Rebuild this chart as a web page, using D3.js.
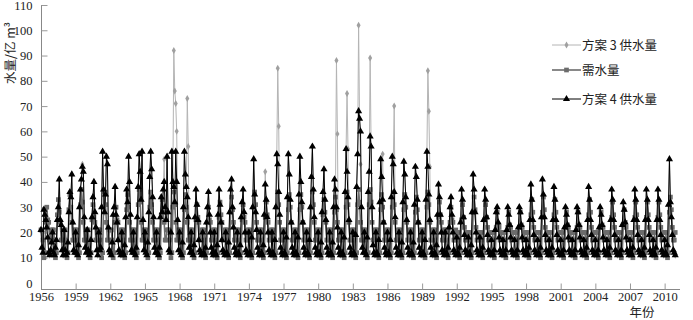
<!DOCTYPE html>
<html><head><meta charset="utf-8">
<script src="https://cdn.jsdelivr.net/npm/d3@7"></script>
<style>body{margin:0;background:#fff}svg{display:block}</style>
</head><body><svg id="c" width="693" height="320"></svg>
<script>
// Monthly series, Jan 1956 .. Dec 2010 (one row per year)
const startYear = 1956;
const yTicks = [0,10,20,30,40,50,60,70,80,90,100,110];
const xTickYears = [1956,1959,1962,1965,1968,1971,1974,1977,1980,1983,1986,1989,1992,1995,1998,2001,2004,2007,2010];
const seriesNames = ["方案 3 供水量", "需水量", "方案 4 供水量"];

const scheme4 = [
21,14,12,29,27,25,22,18,12,11,13,16,
20,12,11,14,17,25,30,41,25,23,13,11,
21,13,11,12,16,28,36,34,43,24,13,12,
20,12,11,15,30,37,41,46,44,26,14,12,
21,13,11,12,17,26,34,40,28,22,13,11,
20,13,14,30,52,37,28,35,50,47,22,13,
12,11,16,27,30,38,27,24,17,13,12,11,
20,12,11,15,26,37,32,50,40,27,13,12,
20,12,11,14,26,38,51,44,33,52,25,13,
20,12,11,16,28,42,52,45,34,26,14,12,
20,12,11,14,26,34,28,37,40,30,25,50,
28,13,12,20,52,40,38,32,52,40,25,13,
20,12,11,16,30,52,43,38,34,26,14,12,
20,12,11,15,26,37,31,25,17,13,12,11,
20,12,11,14,24,30,36,27,20,14,12,11,
20,12,11,15,27,37,31,24,17,13,12,11,
20,12,11,16,28,37,41,30,22,14,12,11,
20,12,11,15,26,32,37,28,20,13,12,11,
20,12,11,18,30,49,35,28,21,14,12,11,
20,12,11,15,27,39,33,26,20,13,12,11,
20,12,11,17,30,51,47,36,27,14,12,11,
20,12,11,18,34,51,43,33,24,14,12,11,
20,12,11,18,35,50,40,32,24,14,12,11,
20,12,11,17,30,42,54,37,26,14,12,11,
20,12,11,16,28,36,45,33,25,14,12,11,
20,12,11,16,30,41,37,30,22,14,12,11,
20,12,11,18,36,53,44,34,25,14,12,11,
20,12,11,19,38,51,68,65,60,30,14,12,
20,12,11,18,36,44,58,54,30,15,12,11,
20,12,11,17,32,49,42,33,24,14,12,11,
20,12,11,17,34,50,47,36,26,14,12,11,
20,12,11,16,32,48,43,34,25,14,12,11,
20,12,11,16,31,46,42,33,24,14,12,11,
20,12,11,17,33,52,46,35,25,14,12,11,
20,12,11,15,27,39,34,27,20,13,12,11,
20,12,11,14,22,30,34,27,20,13,12,11,
18,12,11,14,24,37,33,26,19,13,12,11,
18,12,11,15,28,43,37,28,20,13,12,11,
18,12,11,14,25,37,33,26,19,13,12,11,
17,12,11,13,21,28,30,24,18,13,12,11,
17,12,11,13,21,30,27,23,18,13,12,11,
17,12,11,13,22,30,28,23,18,13,12,11,
17,12,11,14,25,39,33,25,19,13,12,11,
17,12,11,14,26,41,35,26,19,13,12,11,
17,12,11,14,25,38,33,25,19,13,12,11,
17,12,11,13,22,30,27,23,18,13,12,11,
17,12,11,13,21,30,28,23,18,13,12,11,
17,12,11,14,25,38,33,25,19,13,12,11,
17,12,11,13,22,30,27,23,18,13,12,11,
17,12,11,14,25,37,33,25,19,13,12,11,
17,12,11,13,23,32,29,24,18,13,12,11,
17,12,11,14,25,37,33,25,19,13,12,11,
17,12,11,14,25,37,33,25,19,13,12,11,
17,12,11,14,25,37,33,25,19,13,12,11,
17,12,11,15,31,49,32,26,19,13,12,11
];

const scheme3 = [
21,14,12,29,27,25,22,18,12,11,13,16,
20,12,11,14,17,25,30,41,25,23,13,11,
21,13,11,12,16,28,36,34,43,24,13,12,
20,12,11,15,30,37,41,47,44,26,14,12,
21,13,11,12,17,26,34,40,28,22,13,11,
20,13,14,30,52,37,28,35,50,47,22,13,
12,11,16,27,30,38,27,24,17,13,12,11,
20,12,11,15,26,37,32,50,40,27,13,12,
20,12,11,14,26,38,51,44,33,52,25,13,
20,12,11,16,28,42,52,45,34,26,14,12,
20,12,11,14,26,34,28,37,49,30,25,50,
28,13,12,20,52,40,92,76,71,60,25,13,
20,12,11,16,30,52,43,38,73,54,14,12,
20,12,11,15,26,37,31,25,17,13,12,11,
20,12,11,14,24,30,36,27,20,14,12,11,
20,12,11,15,27,37,31,24,17,13,12,11,
20,12,11,16,28,37,41,30,22,14,12,11,
20,12,11,15,26,32,37,28,20,13,12,11,
20,12,11,18,30,49,35,28,21,14,12,11,
20,12,11,15,27,44,33,26,20,13,12,11,
20,12,11,17,30,51,85,62,27,14,12,11,
20,12,11,18,34,51,43,33,24,14,12,11,
20,12,11,18,35,50,40,32,24,14,12,11,
20,12,11,17,30,42,54,37,26,14,12,11,
20,12,11,16,28,36,45,33,25,14,12,11,
20,12,11,16,30,41,37,88,59,14,12,11,
20,12,11,18,36,53,75,53,25,14,12,11,
20,12,11,19,38,51,102,65,47,30,14,12,
20,12,11,18,36,44,89,54,30,15,12,11,
20,12,11,17,32,49,42,51,24,14,12,11,
20,12,11,17,34,50,47,70,26,14,12,11,
20,12,11,16,32,48,43,34,25,14,12,11,
20,12,11,16,31,46,42,33,24,14,12,11,
20,12,11,17,33,52,84,68,46,14,12,11,
20,12,11,15,27,39,34,27,20,13,12,11,
20,12,11,14,22,30,34,27,20,13,12,11,
18,12,11,14,24,37,33,26,19,13,12,11,
18,12,11,15,28,43,37,28,20,13,12,11,
18,12,11,14,25,37,33,26,19,13,12,11,
17,12,11,13,21,28,30,24,18,13,12,11,
17,12,11,13,21,30,27,23,18,13,12,11,
17,12,11,13,22,30,28,23,18,13,12,11,
17,12,11,14,25,39,33,25,19,13,12,11,
17,12,11,14,26,41,35,26,19,13,12,11,
17,12,11,14,25,38,33,25,19,13,12,11,
17,12,11,13,22,30,27,23,18,13,12,11,
17,12,11,13,21,30,28,23,18,13,12,11,
17,12,11,14,25,38,33,25,19,13,12,11,
17,12,11,13,22,30,27,23,18,13,12,11,
17,12,11,14,25,37,33,25,19,13,12,11,
17,12,11,13,23,32,29,24,18,13,12,11,
17,12,11,14,25,37,33,25,19,13,12,11,
17,12,11,14,25,37,33,25,19,13,12,11,
17,12,11,14,25,37,33,25,19,13,12,11,
17,12,11,15,31,49,32,26,19,13,12,11
];

const demand = [
21,21,17,10,12,24,30,25,24,17,17,21,
21,21,17,10,12,27,33,28,24,17,17,21,
21,21,17,10,12,29,35,30,24,17,17,21,
21,21,17,10,12,31,37,32,24,17,17,21,
21,21,17,10,12,25,31,26,24,17,17,21,
21,21,17,10,12,30,36,31,24,17,17,21,
21,21,17,10,12,24,30,25,24,17,17,21,
21,21,17,10,12,29,35,30,24,17,17,21,
21,21,17,10,12,31,37,32,24,17,17,21,
21,21,17,10,12,30,36,31,24,17,17,21,
21,21,17,10,12,27,33,28,24,17,17,21,
21,21,17,10,12,30,36,31,24,17,17,21,
21,21,17,10,12,29,35,30,24,17,17,21,
21,21,17,10,12,25,31,26,24,17,17,21,
21,21,17,10,12,24,30,25,24,17,17,21,
21,21,17,10,12,26,32,27,24,17,17,21,
21,21,17,10,12,28,34,29,24,17,17,21,
21,21,17,10,12,25,31,26,24,17,17,21,
21,21,17,10,12,30,36,31,24,17,17,21,
21,21,17,10,12,26,32,27,24,17,17,21,
21,21,17,10,12,30,36,31,24,17,17,21,
21,21,17,10,12,29,35,30,24,17,17,21,
21,21,17,10,12,29,35,30,24,17,17,21,
21,21,17,10,12,30,36,31,24,17,17,21,
21,21,17,10,12,27,33,28,24,17,17,21,
21,21,17,10,12,28,34,29,24,17,17,21,
21,21,17,10,12,30,36,31,24,17,17,21,
21,21,17,10,12,31,37,32,24,17,17,21,
21,21,17,10,12,31,37,32,24,17,17,21,
21,21,17,10,12,29,35,30,24,17,17,21,
21,21,17,10,12,30,36,31,24,17,17,21,
21,21,17,10,12,29,35,30,24,17,17,21,
21,21,17,10,12,28,34,29,24,17,17,21,
21,21,17,10,12,30,36,31,24,17,17,21,
21,21,17,10,12,26,32,27,24,17,17,21,
21,21,17,10,12,24,30,25,24,17,17,21,
20,20,17,10,12,25,31,26,22,17,17,20,
20,20,17,10,12,28,34,29,22,17,17,20,
20,20,17,10,12,25,31,26,22,17,17,20,
20,20,17,10,12,22,28,23,22,17,17,20,
20,20,17,10,12,22,28,23,22,17,17,20,
20,20,17,10,12,22,28,23,22,17,17,20,
20,20,17,10,12,27,33,28,22,17,17,20,
20,20,17,10,12,28,34,29,22,17,17,20,
20,20,17,10,12,27,33,28,22,17,17,20,
20,20,17,10,12,22,28,23,22,17,17,20,
20,20,17,10,12,22,28,23,22,17,17,20,
20,20,17,10,12,27,33,28,22,17,17,20,
20,20,17,10,12,22,28,23,22,17,17,20,
20,20,17,10,12,26,32,27,22,17,17,20,
20,20,17,10,12,23,29,24,22,17,17,20,
20,20,17,10,12,26,32,27,22,17,17,20,
20,20,17,10,12,26,32,27,22,17,17,20,
20,20,17,10,12,26,32,27,22,17,17,20,
20,20,17,10,12,28,34,29,22,17,17,20
];

const svg = d3.select("#c");
const x = d3.scaleLinear().domain([1956, 2011.33]).range([41, 680]);
const y = d3.scaleLinear().domain([0, 110]).range([283, 5]);
const axisY = 289.5;
const tOf = i => startYear + i / 12;

const numFont = "'Liberation Serif','DejaVu Serif',serif";
const cjkFont = "'Noto Sans CJK SC','Noto Sans',sans-serif";

// axes
const yAxis = d3.axisLeft(y).tickValues(yTicks).tickSizeInner(-6).tickSizeOuter(0).tickPadding(9);
const gy = svg.append("g").attr("transform","translate(41.5,0)").call(yAxis);
const xAxis = d3.axisBottom(x).tickValues(xTickYears).tickFormat(d3.format("d")).tickSizeInner(-6).tickSizeOuter(0).tickPadding(3);
const gx = svg.append("g").attr("transform",`translate(0,${axisY})`).call(xAxis);
[gy, gx].forEach(g => {
  g.select(".domain").attr("stroke","#888");
  g.selectAll(".tick line").attr("stroke","#999");
  g.selectAll("text").attr("font-family", numFont).attr("font-size", 12.5).attr("fill","#222");
});
gy.select(".domain").attr("d", `M0,${y(110)}V${axisY}`);
gy.selectAll(".tick").filter(d => d === 0).select("line").remove();
gx.select(".domain").attr("d", "M41,0H680");
gx.selectAll(".tick").filter(d => d === 1956).select("line").remove();

function series(data, color, width, symbolType, size, fill) {
  const pts = data.map((v, i) => [x(tOf(i)), y(v)]);
  svg.append("path").attr("d", d3.line()(pts)).attr("fill","none")
     .attr("stroke", color).attr("stroke-width", width);
  svg.append("g").selectAll("path").data(pts).join("path")
     .attr("transform", d => `translate(${d[0]},${d[1]})`)
     .attr("d", d3.symbol().type(symbolType).size(size)())
     .attr("fill", fill);
}
series(scheme3, "#b4b4b4", 1, d3.symbolDiamond, 14, "#a0a0a0");
series(demand, "#6c6c6c", 1.6, d3.symbolSquare, 22, "#6c6c6c");
series(scheme4, "#000", 1, d3.symbolTriangle, 22, "#000");

// legend
const leg = [
  {name: seriesNames[0], color:"#b4b4b4", fill:"#a0a0a0", sym:d3.symbolDiamond, size:14, w:1, y:45},
  {name: seriesNames[1], color:"#6c6c6c", fill:"#6c6c6c", sym:d3.symbolSquare, size:22, w:1.6, y:70},
  {name: seriesNames[2], color:"#000", fill:"#000", sym:d3.symbolTriangle, size:22, w:1, y:99}
];
const lg = svg.append("g");
leg.forEach(l => {
  lg.append("line").attr("x1",552).attr("x2",581).attr("y1",l.y).attr("y2",l.y)
    .attr("stroke",l.color).attr("stroke-width",l.w);
  lg.append("path").attr("transform",`translate(566.5,${l.y})`)
    .attr("d", d3.symbol().type(l.sym).size(l.size)()).attr("fill",l.fill);
  lg.append("text").attr("x",582).attr("y",l.y).attr("dy","0.36em")
    .attr("font-family",cjkFont).attr("font-size",12.5).attr("fill","#222").text(l.name);
});

// axis titles
svg.append("text").attr("transform","translate(15,53) rotate(-90)")
  .attr("text-anchor","middle").attr("font-family",cjkFont).attr("font-size",12.5).attr("fill","#222")
  .text("水量/亿 m³");
svg.append("text").attr("x",642).attr("y",317).attr("text-anchor","middle")
  .attr("font-family",cjkFont).attr("font-size",12.5).attr("fill","#222").text("年份");
</script></body></html>
